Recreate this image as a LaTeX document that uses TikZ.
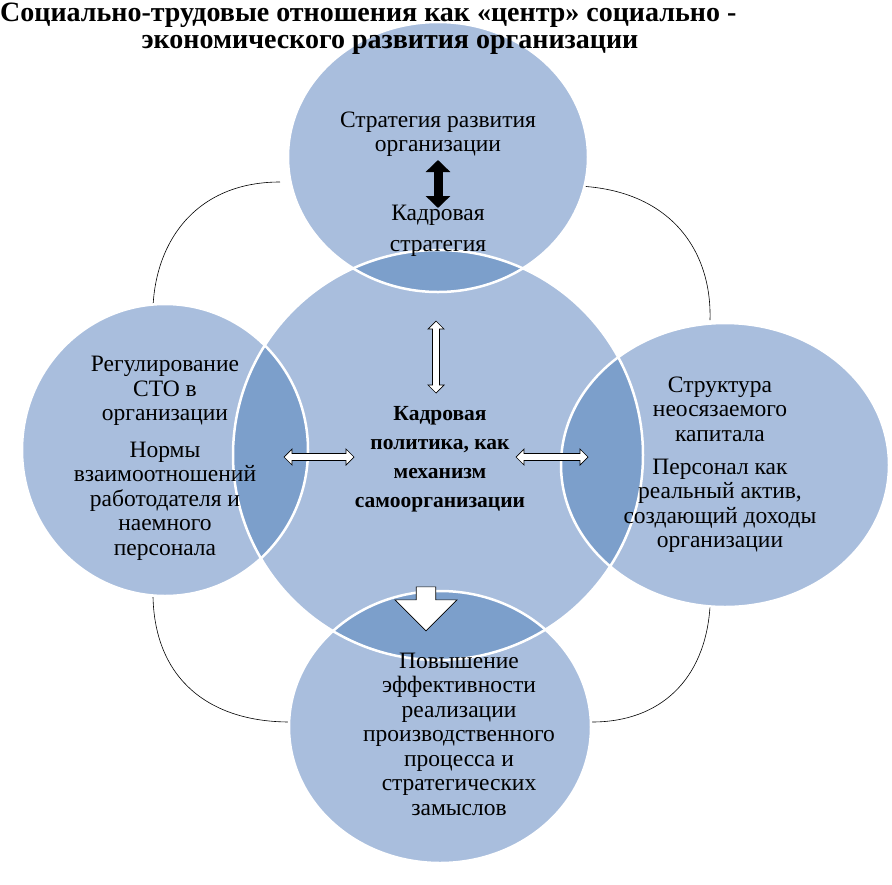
\documentclass[tikz,border=0pt]{standalone}
\usepackage{fontspec}
\setmainfont{Liberation Serif}
\usetikzlibrary{shapes.arrows,arrows.meta}
\definecolor{cfill}{HTML}{A9BEDD}
\definecolor{cdark}{HTML}{7C9FCB}
\tikzset{lbl/.style={align=center,font=\fontsize{23.5}{24.5}\selectfont,inner sep=0pt},
 hollow/.style={double arrow,draw=black,fill=white,line width=0.7pt,minimum height=#1,minimum width=16pt,double arrow head extend=3pt,inner sep=2pt},
 link/.style={black,line width=0.6pt}}
\begin{document}
\begin{tikzpicture}[x=1pt,y=-1pt]
\useasboundingbox (0,0) rectangle (892,884);
\def\C{(438,455) circle [radius=205]}
\def\T{(438,157) ellipse [x radius=150,y radius=135]}
\def\L{(165,450) ellipse [x radius=143,y radius=146]}
\def\R{(725,465) ellipse [x radius=164,y radius=142]}
\def\B{(440,727) ellipse [x radius=151,y radius=136]}
\coordinate (a1) at (280,182); \coordinate (a2) at (153,322);
\coordinate (b1) at (578,186); \coordinate (b2) at (710,320);
\coordinate (c1) at (153,597); \coordinate (c2) at (290,722);
\coordinate (d1) at (710,607); \coordinate (d2) at (592,722);
\draw[link] (a1) .. controls (190,182) and (150,250) .. (a2);
\draw[link] (b1) .. controls (670,190) and (712,250) .. (b2);
\draw[link] (c1) .. controls (155,680) and (210,722) .. (c2);
\draw[link] (d1) .. controls (705,680) and (660,722) .. (d2);
\fill[cfill] \C; \fill[cfill] \T; \fill[cfill] \L; \fill[cfill] \R; \fill[cfill] \B;
\begin{scope}\clip \C; \fill[cdark] \T; \fill[cdark] \L; \fill[cdark] \R; \fill[cdark] \B;\end{scope}
\foreach \s in {\C,\T,\L,\R,\B} \draw[white,line width=2.5pt] \s;
% title
\node[anchor=west,font=\bfseries\fontsize{28}{29}\selectfont,inner sep=0pt] (t1) at (0,15) {Социально-трудовые отношения как «центр» социально -};
\node[font=\bfseries\fontsize{28}{29}\selectfont,inner sep=0pt] (t2) at (390,45) {экономического развития организации};
% texts
\node[lbl] (top1) at (438,134) {Стратегия развития\\организации};
\node[lbl] (top2) at (438,231) {Кадровая\\[6pt]стратегия};
\draw[{Triangle[length=12pt,width=24pt]}-{Triangle[length=12pt,width=24pt]},line width=9pt] (438,160) -- (438,208);
\node[lbl,font=\bfseries\fontsize{21.5}{29}\selectfont] (ctr) at (440,459) {Кадровая\\политика, как\\механизм\\самоорганизации};
\node[lbl] (lt) at (165,391) {Регулирование\\СТО в\\организации};
\node[lbl] (lb) at (165,501) {Нормы\\взаимоотношений\\работодателя и\\наемного\\персонала};
\node[lbl] (rt) at (720,409) {Структура\\неосязаемого\\капитала};
\node[lbl] (rb) at (720,506) {Персонал как\\реальный актив,\\создающий доходы\\организации};
\node[lbl] (bt) at (459,734) {Повышение\\эффективности\\реализации\\производственного\\процесса и\\стратегических\\замыслов};
% hollow arrows
\node[hollow=72pt,rotate=90] (v) at (436,357) {};
\node[hollow=70pt] (hl) at (319,457) {};
\node[hollow=72pt] (hr) at (552,457) {};
\node[single arrow,draw=black,fill=white,line width=0.7pt,rotate=-90,minimum height=44pt,minimum width=62pt,single arrow head extend=16pt,inner sep=7pt] (dn) at (426,604) {};
\end{tikzpicture}
\end{document}
